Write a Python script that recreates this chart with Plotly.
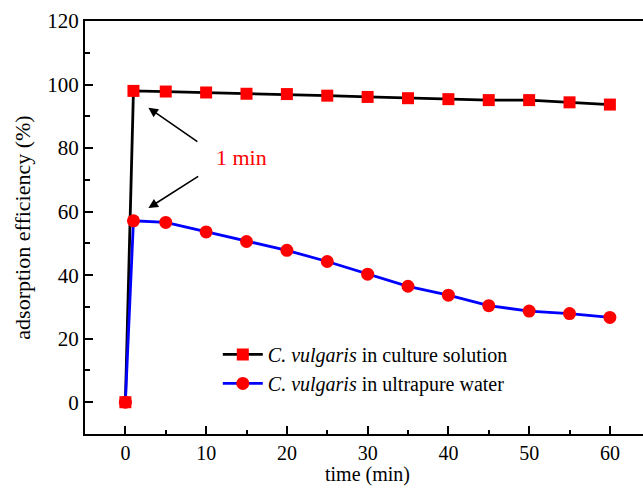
import plotly.graph_objects as go

time_min = [0, 1, 5, 10, 15, 20, 25, 30, 35, 40, 45, 50, 55, 60]
culture_solution = [0, 98.0, 97.8, 97.5, 97.1, 97.0, 96.5, 96.1, 95.7, 95.4, 95.1, 95.1, 94.4, 93.7]
ultrapure_water = [0, 57.1, 56.6, 53.6, 50.6, 47.8, 44.3, 40.3, 36.5, 33.7, 30.4, 28.7, 27.9, 26.7]

series_names = ["<i>C. vulgaris</i> in culture solution", "<i>C. vulgaris</i> in ultrapure water"]
x_title = "time (min)"
y_title = "adsorption efficiency (%)"
note_text = "1 min"
note_pos = (14.4, 77)
arrows = [  # (head x, head y, tail x, tail y)
    (2.85, 92.7, 9.1, 81.7),
    (2.85, 61.1, 9.2, 71.4),
]

font_family = "Liberation Serif"

fig = go.Figure()
fig.add_trace(go.Scatter(
    x=time_min, y=culture_solution, name=series_names[0], mode="lines+markers",
    line=dict(color="black", width=2.8),
    marker=dict(symbol="square", size=12, color="#ff0000"),
))
fig.add_trace(go.Scatter(
    x=time_min, y=ultrapure_water, name=series_names[1], mode="lines+markers",
    line=dict(color="#0000ff", width=2.8),
    marker=dict(symbol="circle", size=13, color="#ff0000"),
))

annotations = [dict(x=note_pos[0], y=note_pos[1], xref="x", yref="y", text=note_text,
                    showarrow=False, font=dict(color="#ff0000", size=22, family=font_family))]
for hx, hy, tx, ty in arrows:
    annotations.append(dict(x=hx, y=hy, ax=tx, ay=ty, xref="x", yref="y", axref="x", ayref="y",
                            text="", showarrow=True, arrowhead=2, arrowsize=1.2, arrowwidth=1.6,
                            arrowcolor="black"))
# x-axis title, placed as a text annotation just below the tick labels
annotations.append(dict(x=30, y=-0.128, xref="x", yref="paper", text=x_title, showarrow=False,
                        xanchor="center", yanchor="bottom", borderpad=0,
                        font=dict(size=20, family=font_family, color="black")))

fig.update_layout(
    width=643, height=488,
    margin=dict(l=85, r=0, t=21, b=54),
    paper_bgcolor="white", plot_bgcolor="white",
    font=dict(family=font_family, size=21, color="black"),
    showlegend=True,
    legend=dict(x=0.238, y=0.24, xanchor="left", yanchor="top",
                font=dict(size=20, family=font_family), bgcolor="rgba(0,0,0,0)",
                tracegroupgap=0, itemwidth=40),
    annotations=annotations,
)
fig.update_xaxes(
    range=[-5, 64.1], tickmode="linear", tick0=0, dtick=10,
    ticks="inside", ticklen=8, tickwidth=1.5, tickcolor="black",
    minor=dict(dtick=5, tick0=0, ticks="inside", ticklen=4, tickwidth=1.5, tickcolor="black"),
    showline=True, linecolor="black", linewidth=2, mirror=True,
    showgrid=False, zeroline=False,
    tickfont=dict(size=20, family=font_family),
)
fig.update_yaxes(
    range=[-10, 120], tickmode="linear", tick0=0, dtick=20,
    ticks="inside", ticklen=8, tickwidth=1.5, tickcolor="black",
    minor=dict(dtick=10, tick0=0, ticks="inside", ticklen=5, tickwidth=1.5, tickcolor="black"),
    showline=True, linecolor="black", linewidth=2, mirror=False,
    showgrid=False, zeroline=False,
    title=dict(text=y_title, font=dict(size=22, family=font_family), standoff=11),
    tickfont=dict(size=21, family=font_family),
)

fig.write_html("out.html")
